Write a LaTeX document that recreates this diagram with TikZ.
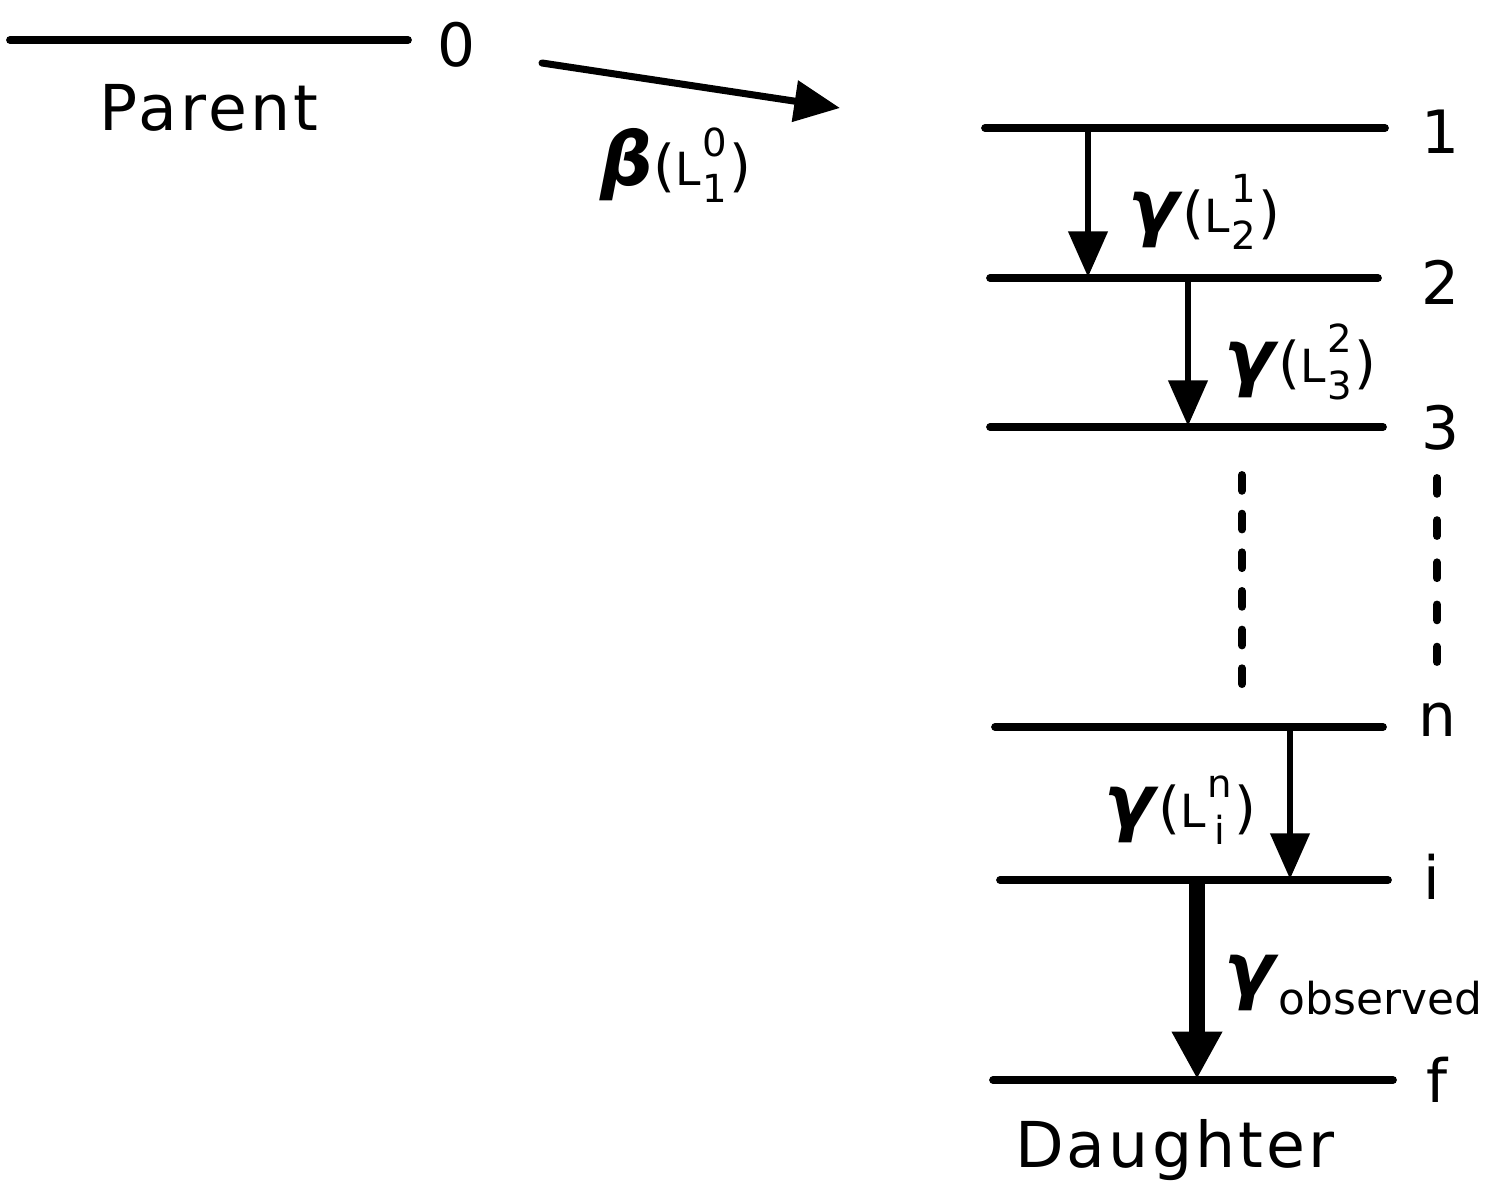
\documentclass[tikz,border=0pt]{standalone}
\usepackage{fontspec}
\setmainfont{DejaVu Sans}
\usetikzlibrary{arrows.meta}
% L with its upper and lower index stacked on the right
\newcommand{\LL}[2]{{\fontsize{26}{26}\selectfont L}\kern1pt{\fontsize{22}{22}\selectfont
  \ooalign{\hfil\raisebox{17pt}{#1}\hfil\cr\hfil\raisebox{-9.5pt}{#2}\hfil\cr}}\kern1pt}
\newcommand{\lpar}{{\fontsize{32}{32}\selectfont(}}
\newcommand{\rpar}{{\fontsize{32}{32}\selectfont)}}
\newcommand{\gsym}{{\fontsize{42}{44}\selectfont\textbf{\textit{γ}}}}
\newcommand{\bsym}{{\fontsize{42}{44}\selectfont\textbf{\textit{β}}}}
\begin{document}
\begin{tikzpicture}[x=0.02cm,y=-0.02cm,
  level/.style={line width=4.4pt,line cap=round},
  trans/.style={line width=3.2pt,-{Triangle[length=26pt,width=22pt]}},
  strong/.style={line width=9pt,-{Triangle[length=27pt,width=27pt]}},
  levlab/.style={font=\fontsize{34}{40}\selectfont,inner sep=0pt},
  txt/.style={font=\fontsize{32}{38}\selectfont,inner sep=0pt},
  wide/.style={font=\fontsize{36}{40}\selectfont\addfontfeature{LetterSpace=5},inner sep=0pt},
  dashes/.style={line width=4.5pt,line cap=round,dash pattern=on 9pt off 13pt}]
\useasboundingbox (0,0) rectangle (1498,1185);

% parent state
\draw[level] (10,40) coordinate (p0a) -- (408,40) coordinate (p0b);
\node[levlab] (n0) at (456,45) {0};
\node[wide] (parent) at (209,108) {Parent};

% beta feeding
\coordinate (ba) at (542,63);
\coordinate (bb) at (840,108);
\draw[line width=4pt,line cap=round,-{Triangle[length=26pt,width=23pt]}] (ba) -- (bb);
\node[txt] (blab) at (676,165) {\bsym\lpar\LL{0}{1}\rpar};

% daughter levels
\draw[level] (985,128) coordinate (l1a) -- (1385,128) coordinate (l1b);
\draw[level] (990,278) coordinate (l2a) -- (1378,278) coordinate (l2b);
\draw[level] (990,427) coordinate (l3a) -- (1383,427) coordinate (l3b);
\draw[level] (995,727) coordinate (lna) -- (1383,727) coordinate (lnb);
\draw[level] (1000,880) coordinate (lia) -- (1388,880) coordinate (lib);
\draw[level] (993,1080) coordinate (lfa) -- (1393,1080) coordinate (lfb);

\node[levlab] (n1) at (1440,132) {1};
\node[levlab] (n2) at (1440,282) {2};
\node[levlab] (n3) at (1440,428) {3};
\node[levlab] (nn) at (1437,720) {n};
\node[levlab] (ni) at (1432,877) {i};
\node[levlab] (nf) at (1437,1080) {f};
\node[wide] (daughter) at (1175,1150) {Daughter};

% omitted levels
\draw[dashes] (1242,475) coordinate (d1a) -- (1242,690) coordinate (d1b);
\draw[dashes,dash pattern=on 9pt off 15pt] (1437,478) coordinate (d2a) -- (1437,662) coordinate (d2b);

% gamma cascade
\coordinate (g1a) at (1088,128); \coordinate (g1b) at (1088,277);
\coordinate (g2a) at (1188,278); \coordinate (g2b) at (1188,426);
\coordinate (g3a) at (1290,727); \coordinate (g3b) at (1290,879);
\coordinate (g4a) at (1197,880); \coordinate (g4b) at (1197,1079);
\draw[trans] (g1a) -- (g1b);
\draw[trans] (g2a) -- (g2b);
\draw[trans] (g3a) -- (g3b);
\draw[strong] (g4a) -- (g4b);

\node[txt] (lab1) at (1204,212) {\gsym\lpar\LL{1}{2}\rpar};
\node[txt] (lab2) at (1300,362) {\gsym\lpar\LL{2}{3}\rpar};
\node[txt] (lab3) at (1180,810) {\gsym\lpar\LL{n}{i}\rpar};
\node[txt,anchor=west] (lab4) at (1224,985) {\gsym\raisebox{-11pt}{\fontsize{25}{30}\selectfont observed}};
\end{tikzpicture}
\end{document}
